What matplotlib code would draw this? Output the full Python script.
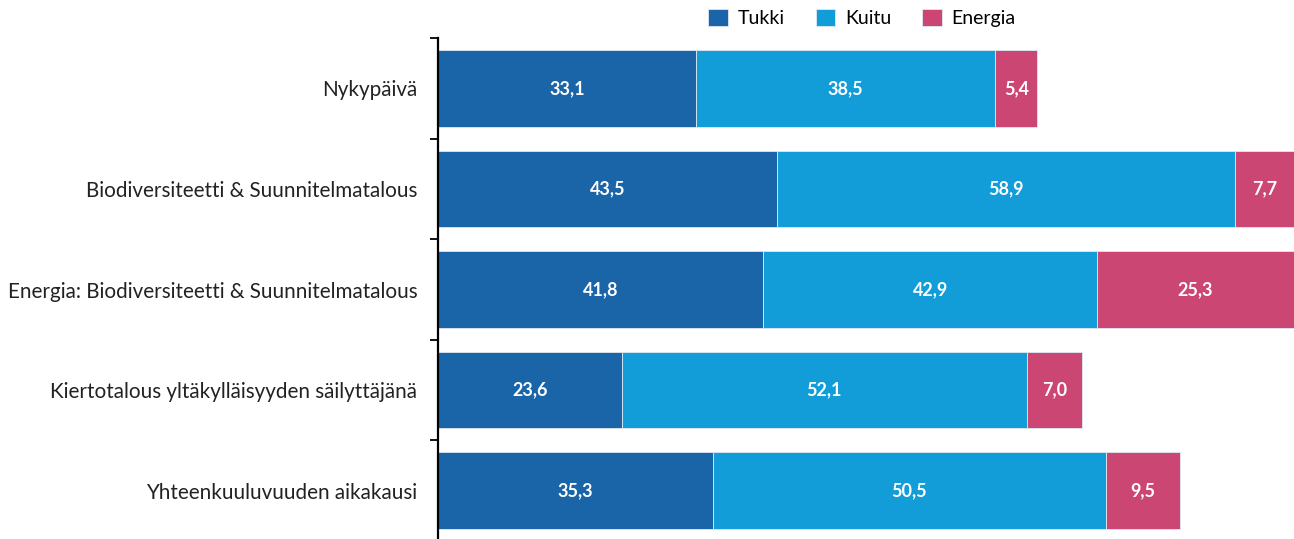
import matplotlib
import matplotlib.pyplot as plt
import numpy as np

matplotlib.use("Agg")

plt.rcParams["font.family"] = ["Lato", "DejaVu Sans"]

categories = [
    "Nykypäivä",
    "Biodiversiteetti & Suunnitelmatalous",
    "Energia: Biodiversiteetti & Suunnitelmatalous",
    "Kiertotalous yltäkylläisyyden säilyttäjänä",
    "Yhteenkuuluvuuden aikakausi",
]
series_names = ["Tukki", "Kuitu", "Energia"]
tukki = [33.1, 43.5, 41.8, 23.6, 35.3]
kuitu = [38.5, 58.9, 42.9, 52.1, 50.5]
energia = [5.4, 7.7, 25.3, 7.0, 9.5]
colors = ["#1a64a8", "#139dd8", "#cb4673"]

fig = plt.figure(figsize=(12.94, 5.39), dpi=100)
ax = fig.add_axes([438 / 1294, -2 / 539, 856 / 1294, 503 / 539])

y = np.arange(len(categories))
left = np.zeros(len(categories))
for name, vals, col in zip(series_names, [tukki, kuitu, energia], colors):
    vals = np.array(vals)
    bars = ax.barh(y, vals, left=left, height=0.76, color=col, label=name,
                   edgecolor="#dfe9f3", linewidth=0.6)
    for b, v in zip(bars, vals):
        cx = b.get_x() + b.get_width() / 2
        cx = min(cx, 110 - (110 - b.get_x()) / 2)
        ax.text(cx, b.get_y() + b.get_height() / 2, f"{v:.1f}".replace(".", ","),
                ha="center", va="center", color="white", fontsize=13,
                fontweight="bold")
    left += vals

ax.set_xlim(0, 110)
ax.set_ylim(len(categories) - 0.5, -0.5)
ax.set_yticks(y)
ax.set_yticklabels(categories, fontsize=14.9, color="#222222")
ax.tick_params(axis="y", which="major", length=0, pad=15)
ax.set_yticks(np.arange(-0.5, len(categories)), minor=True)
ax.tick_params(axis="y", which="minor", length=6, width=1.3, direction="out")
ax.set_xticks([])
for s in ["top", "right", "bottom"]:
    ax.spines[s].set_visible(False)
ax.spines["left"].set_linewidth(1.6)

fig.legend(loc="center", bbox_to_anchor=(862 / 1294, 1 - 18 / 539), ncol=3,
           frameon=False, fontsize=14, handlelength=1.0, handleheight=1.0,
           handletextpad=0.5, columnspacing=1.6)

fig.savefig("out.png", dpi=100)
